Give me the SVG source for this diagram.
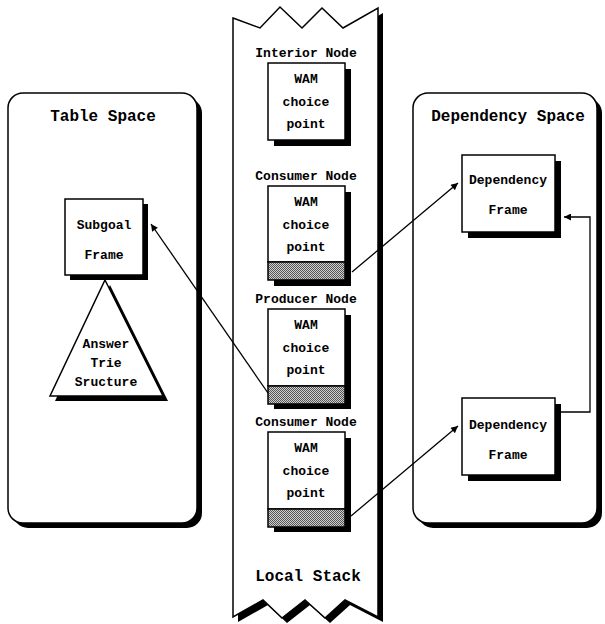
<svg xmlns="http://www.w3.org/2000/svg" width="605" height="624" viewBox="0 0 605 624">
<defs>
<style>
text{font-family:"Liberation Mono","Courier New",monospace;font-weight:bold;fill:#000;text-anchor:middle}
.t{font-size:16px}
.s{font-size:13px}
.box{fill:#fff;stroke:#000;stroke-width:1.5}
.sh{fill:#000}
.hat{fill:url(#chk);stroke:#000;stroke-width:1.5}
.con{fill:none;stroke:#000;stroke-width:1.3}
</style>
<pattern id="chk" width="2" height="2" patternUnits="userSpaceOnUse">
<rect width="2" height="2" fill="#d0d0d0"/>
<rect width="1" height="1" fill="#555"/>
<rect x="1" y="1" width="1" height="1" fill="#555"/>
</pattern>
<marker id="ah" viewBox="0 0 10 10" refX="10" refY="5" markerWidth="10" markerHeight="7" markerUnits="userSpaceOnUse" orient="auto">
<path d="M0,0 L10,5 L0,10 z" fill="#000"/>
</marker>
</defs>

<g id="table-space">
<rect class="sh" x="13" y="98" width="189" height="430" rx="15"/>
<rect class="box" x="8" y="93" width="189" height="430" rx="15"/>
<text class="t" x="103" y="121">Table Space</text>
</g>

<g id="dependency-space">
<rect class="sh" x="418" y="98" width="184" height="430" rx="15"/>
<rect class="box" x="413" y="93" width="184" height="430" rx="15"/>
<text class="t" x="508" y="121">Dependency Space</text>
</g>

<g id="local-stack">
<path class="sh" d="M238,23 L265,33 L285,12 L307,33 L327,13 L348,33 L383,13 L383,622 L350,605 L330,623 L310,605 L287,623 L268,605 L238,622 Z"/>
<path class="box" d="M233,18 L260,28 L280,7 L302,28 L322,8 L343,28 L378,8 L378,617 L345,600 L325,618 L305,600 L282,618 L263,600 L233,617 Z"/>
<text class="t" x="308" y="581">Local Stack</text>
</g>

<g id="subgoal-frame">
<rect class="sh" x="70" y="204" width="78" height="76"/>
<rect class="box" x="65" y="199" width="78" height="76"/>
<text class="s" x="104" y="229">Subgoal</text>
<text class="s" x="104" y="259">Frame</text>
</g>

<g id="answer-trie">
<polygon class="sh" points="110,285 168,401 55,401"/>
<polygon class="box" points="105,280 163,396 50,396"/>
<text class="s" x="106" y="348">Answer</text>
<text class="s" x="106" y="367">Trie</text>
<text class="s" x="106" y="386">Sructure</text>
</g>

<g id="interior-node">
<text class="s" x="306" y="57">Interior Node</text>
<rect class="sh" x="274" y="69" width="77" height="77"/>
<rect class="box" x="268" y="63" width="77" height="77"/>
<text class="s" x="306" y="83">WAM</text>
<text class="s" x="306" y="106">choice</text>
<text class="s" x="306" y="128">point</text>
</g>

<g id="consumer-node-1">
<text class="s" x="306" y="180">Consumer Node</text>
<rect class="sh" x="274" y="192" width="77" height="94"/>
<rect class="box" x="268" y="186" width="77" height="76"/>
<rect class="hat" x="268" y="262" width="77" height="18"/>
<text class="s" x="306" y="206">WAM</text>
<text class="s" x="306" y="229">choice</text>
<text class="s" x="306" y="251">point</text>
</g>

<g id="producer-node">
<text class="s" x="306" y="303">Producer Node</text>
<rect class="sh" x="274" y="315" width="77" height="94"/>
<rect class="box" x="268" y="309" width="77" height="77"/>
<rect class="hat" x="268" y="386" width="77" height="18"/>
<text class="s" x="306" y="329">WAM</text>
<text class="s" x="306" y="352">choice</text>
<text class="s" x="306" y="374">point</text>
</g>

<g id="consumer-node-2">
<text class="s" x="306" y="426">Consumer Node</text>
<rect class="sh" x="274" y="438" width="77" height="94"/>
<rect class="box" x="268" y="432" width="77" height="77"/>
<rect class="hat" x="268" y="509" width="77" height="18"/>
<text class="s" x="306" y="452">WAM</text>
<text class="s" x="306" y="475">choice</text>
<text class="s" x="306" y="497">point</text>
</g>

<g id="dependency-frame-1">
<rect class="sh" x="468" y="161" width="93" height="77"/>
<rect class="box" x="462" y="155" width="93" height="77"/>
<text class="s" x="508" y="184">Dependency</text>
<text class="s" x="508" y="214">Frame</text>
</g>

<g id="dependency-frame-2">
<rect class="sh" x="468" y="404" width="93" height="77"/>
<rect class="box" x="462" y="398" width="93" height="77"/>
<text class="s" x="508" y="429">Dependency</text>
<text class="s" x="508" y="459">Frame</text>
</g>

<g id="connectors">
<line class="con" x1="352" y1="272" x2="458" y2="183" marker-end="url(#ah)"/>
<line class="con" x1="268" y1="393" x2="151" y2="224" marker-end="url(#ah)"/>
<line class="con" x1="351" y1="516" x2="458" y2="426" marker-end="url(#ah)"/>
<polyline class="con" points="561,412 590,412 590,217 564,217" marker-end="url(#ah)"/>
</g>
</svg>
